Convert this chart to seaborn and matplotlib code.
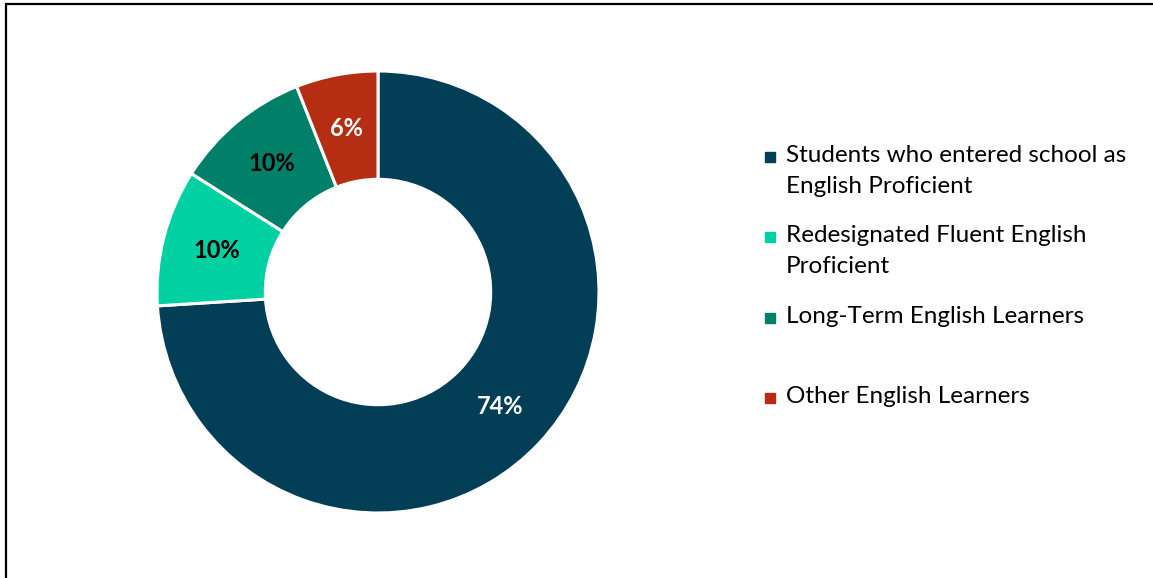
import matplotlib
matplotlib.use("Agg")
import matplotlib.pyplot as plt
from matplotlib.lines import Line2D
from matplotlib.patches import Rectangle
import seaborn as sns

# data
categories = [
    "Students who entered school as\nEnglish Proficient",
    "Redesignated Fluent English\nProficient",
    "Long-Term English Learners",
    "Other English Learners",
]
shares = [74, 10, 10, 6]
colors = ["#023F56", "#00D0A2", "#008068", "#B52D12"]
label_colors = ["white", "black", "black", "white"]

sns.set_theme(style="white")
plt.rcParams["font.family"] = ["Lato", "DejaVu Sans"]
palette = sns.color_palette(colors)

fig = plt.figure(figsize=(11.53, 5.78), dpi=100)
W, H = 1153, 578

# donut axes: centre (378, 292), radius 221 px
ax = fig.add_axes([(378 - 221) / W, (H - 292 - 221) / H, 442 / W, 442 / H])
wedges, texts, autotexts = ax.pie(
    shares,
    colors=palette,
    startangle=90,
    counterclock=False,
    radius=1,
    autopct=lambda p: f"{p:.0f}%",
    pctdistance=0.755,
    wedgeprops=dict(width=0.49, edgecolor="white", linewidth=2.2),
)
for t, c in zip(autotexts, label_colors):
    t.set_color(c)
    t.set_fontsize(17)
    t.set_fontweight("bold")
ax.set_xlim(-1, 1)
ax.set_ylim(-1, 1)
ax.set_aspect("equal")
ax.axis("off")

# legend, placed by hand to keep the original spacing
legend_y = [157, 237, 318, 398]
for lab, col, y in zip(categories, palette, legend_y):
    fig.add_artist(Line2D([770 / W], [1 - y / H], marker="s", markersize=7,
                          color=col, linestyle="none", transform=fig.transFigure))
    fig.text(786 / W, 1 - (y - 12) / H, lab, ha="left", va="top", fontsize=17.5,
             color="black", linespacing=1.57)

# chart border (top and left edges visible)
fig.add_artist(Rectangle((6 / W, -0.1), 1.2, (H - 4) / H + 0.1, transform=fig.transFigure,
                         fill=False, edgecolor="black", linewidth=1.6))

fig.savefig("out.png", dpi=100)
